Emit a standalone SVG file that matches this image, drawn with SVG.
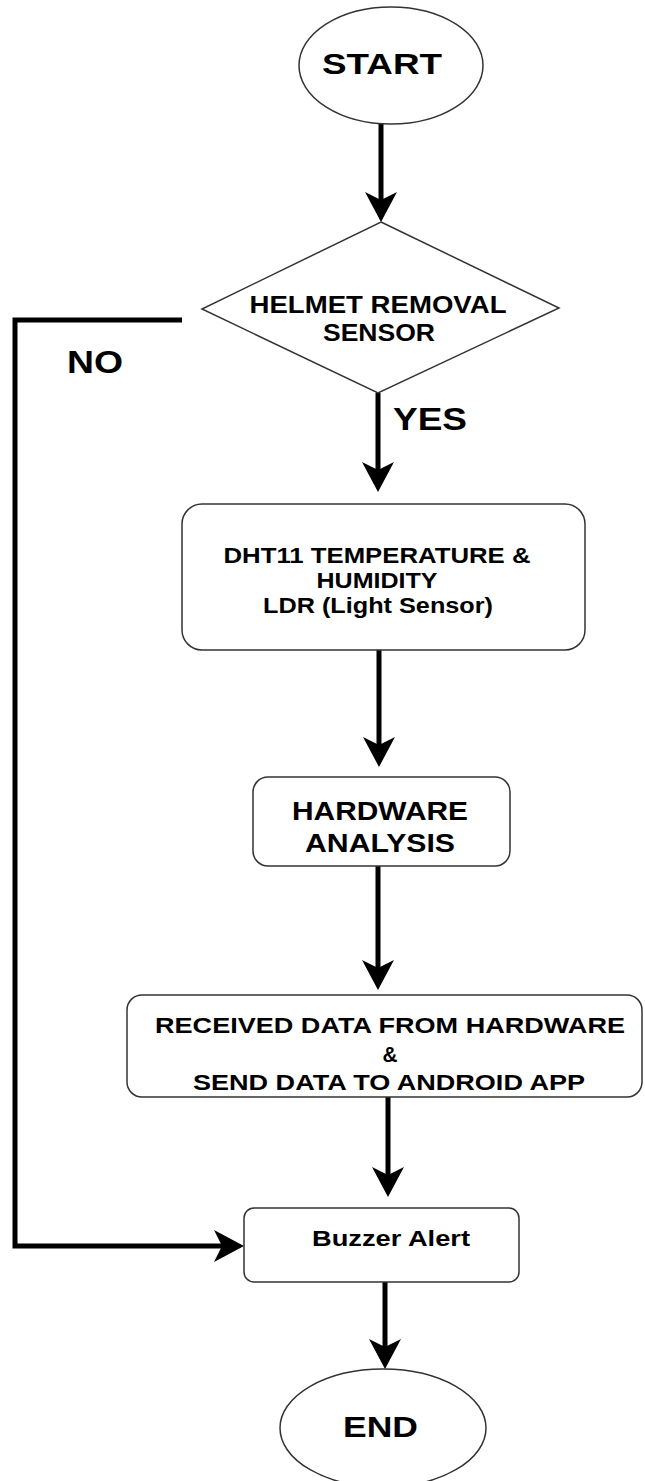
<svg xmlns="http://www.w3.org/2000/svg" width="645" height="1481" viewBox="0 0 645 1481">
<style>
.node{fill:#fff;stroke:#333;stroke-width:1.5}
.t{font-family:"Liberation Sans",Arial,sans-serif;font-weight:bold;fill:#000;text-anchor:middle}
.c{fill:none;stroke:#000;stroke-width:5}
</style>
<defs>
<marker id="arr" markerUnits="userSpaceOnUse" markerWidth="32" markerHeight="32" refX="8" refY="16" orient="auto" viewBox="0 0 32 32">
<path d="M0,0 L30,16 L0,32 L8,16 Z" fill="#000"/>
</marker>
</defs>
<rect width="645" height="1481" fill="#fff"/>
<g id="connectors">
<path class="c" d="M381,124 V200" marker-end="url(#arr)"/>
<path class="c" d="M378,393 V470" marker-end="url(#arr)"/>
<path class="c" d="M379,650 V745" marker-end="url(#arr)"/>
<path class="c" d="M378,866 V968" marker-end="url(#arr)"/>
<path class="c" d="M388,1097 V1175" marker-end="url(#arr)"/>
<path class="c" d="M385,1282 V1347" marker-end="url(#arr)"/>
<path class="c" d="M182,320 H15 V1246 H222" marker-end="url(#arr)"/>
<text class="t" x="95" y="373" font-size="32" textLength="56" lengthAdjust="spacingAndGlyphs">NO</text>
<text class="t" x="430" y="430" font-size="32" textLength="74" lengthAdjust="spacingAndGlyphs">YES</text>
</g>
<g id="start">
<ellipse class="node" cx="391" cy="65.5" rx="92" ry="58.5"/>
<text class="t" x="382" y="74" font-size="29" textLength="120" lengthAdjust="spacingAndGlyphs">START</text>
</g>
<g id="helmet">
<polygon class="node" points="381,222 559,308 378,393 202,309"/>
<text class="t" x="378" y="313" font-size="23" textLength="257" lengthAdjust="spacingAndGlyphs">HELMET REMOVAL</text>
<text class="t" x="379" y="341" font-size="23" textLength="112" lengthAdjust="spacingAndGlyphs">SENSOR</text>
</g>
<g id="dht11">
<rect class="node" x="182" y="504" width="403" height="146" rx="20"/>
<text class="t" x="377" y="563" font-size="22" textLength="307" lengthAdjust="spacingAndGlyphs">DHT11 TEMPERATURE &amp;</text>
<text class="t" x="377" y="588" font-size="22" textLength="121" lengthAdjust="spacingAndGlyphs">HUMIDITY</text>
<text class="t" x="378" y="613" font-size="22" textLength="230" lengthAdjust="spacingAndGlyphs">LDR (Light Sensor)</text>
</g>
<g id="hardware">
<rect class="node" x="253" y="777" width="257" height="89" rx="15"/>
<text class="t" x="380" y="820" font-size="25" textLength="176" lengthAdjust="spacingAndGlyphs">HARDWARE</text>
<text class="t" x="380" y="852" font-size="25" textLength="150" lengthAdjust="spacingAndGlyphs">ANALYSIS</text>
</g>
<g id="received">
<rect class="node" x="127" y="995" width="515" height="102" rx="15"/>
<text class="t" x="390" y="1033" font-size="22" textLength="470" lengthAdjust="spacingAndGlyphs">RECEIVED DATA FROM HARDWARE</text>
<text class="t" x="390" y="1062" font-size="22" textLength="15" lengthAdjust="spacingAndGlyphs">&amp;</text>
<text class="t" x="389" y="1090" font-size="22" textLength="392" lengthAdjust="spacingAndGlyphs">SEND DATA TO ANDROID APP</text>
</g>
<g id="buzzer">
<rect class="node" x="244" y="1208" width="275" height="74" rx="10"/>
<text class="t" x="391" y="1246" font-size="22" textLength="158" lengthAdjust="spacingAndGlyphs">Buzzer Alert</text>
</g>
<g id="end">
<ellipse class="node" cx="383" cy="1428" rx="103" ry="59"/>
<text class="t" x="380.5" y="1437" font-size="30" textLength="75" lengthAdjust="spacingAndGlyphs">END</text>
</g>
</svg>
